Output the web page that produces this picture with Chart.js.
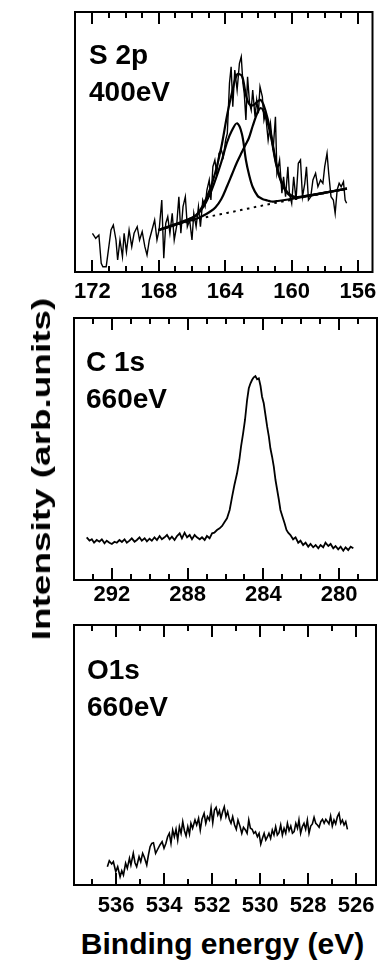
<!DOCTYPE html>
<html><head><meta charset="utf-8">
<script src="https://cdn.jsdelivr.net/npm/chart.js@4.4.1/dist/chart.umd.min.js"></script>
<style>
html,body{margin:0;padding:0;background:#fff;}
body{position:relative;width:383px;height:973px;overflow:hidden;font-family:"Liberation Sans",Arial,sans-serif;color:#000;}
canvas{position:absolute;left:0;}
.t{position:absolute;line-height:1;white-space:nowrap;font-weight:bold;}
.lab{font-size:28px;}
</style></head><body>
<canvas id="c1" width="383" height="305" style="top:0px"></canvas>
<canvas id="c2" width="383" height="310" style="top:305px"></canvas>
<canvas id="c3" width="383" height="310" style="top:615px"></canvas>
<div class="t lab" style="left:89px;top:41px">S 2p</div>
<div class="t lab" style="left:89px;top:78px">400eV</div>
<div class="t lab" style="left:86px;top:348px">C 1s</div>
<div class="t lab" style="left:86px;top:385px">660eV</div>
<div class="t lab" style="left:87px;top:656px">O1s</div>
<div class="t lab" style="left:87px;top:693px">660eV</div>
<div class="t" style="left:41px;top:469px;font-size:26px;transform:translate(-50%,-50%) rotate(-90deg) scaleX(1.42);">Intensity (arb.units)</div>
<div class="t" style="left:222.5px;top:929px;font-size:30px;transform:translateX(-50%);">Binding energy (eV)</div>
<script>
// ---------- S 2p (400 eV) ----------
const s2pTickLabels = [172,168,164,160,156];
const s2pEnergy = [172.00,171.80,171.61,171.47,171.37,171.17,171.01,170.88,170.74,170.58,
170.48,170.34,170.19,170.09,169.95,169.79,169.63,169.49,169.30,169.16,
169.00,168.84,168.71,168.57,168.41,168.25,168.11,167.98,167.82,167.70,
167.58,167.46,167.33,167.19,167.07,166.93,166.79,166.67,166.54,166.40,
166.28,166.14,166.00,165.89,165.75,165.61,165.49,165.35,165.21,165.10,
164.96,164.86,164.74,164.62,164.51,164.37,164.23,164.11,163.97,163.87,
163.74,163.64,163.54,163.42,163.28,163.14,163.03,162.93,162.85,162.75,
162.65,162.53,162.43,162.34,162.20,162.10,162.00,161.90,161.76,161.66,
161.57,161.41,161.27,161.11,160.97,160.88,160.72,160.58,160.48,160.36,
160.22,160.13,159.99,159.87,159.73,159.59,159.46,159.34,159.20,159.10,
158.98,158.84,158.71,158.55,158.41,158.25,158.11,158.00,157.86,157.76,
157.62,157.48,157.37,157.25,157.13,157.01,156.87,156.77,156.68];
const s2pRaw = [38.7,33.7,37,8.7,5.3,5.3,25.3,42,47,32,
12,32,15.3,38.7,20.3,42,25.3,38.7,45.3,32,
40.3,25.3,17,32,42,52,32,42,72,13.7,
48.7,55.3,38.7,58.7,32,45.3,75.3,38.7,65.3,75.3,
45.3,52,32,58.7,45.3,65.3,45.3,72,65.3,82,
92,72,105.3,112,98.7,118.7,122,115.3,132,138.7,
188.7,205.3,165.3,202,182,208.7,215.3,188.7,178.7,152,
195.3,168.7,162,182,155.3,172,158.7,185.3,175.3,152,
158.7,132,148.7,122,155.3,98.7,112,78.7,95.3,75.3,
105.3,78.7,68.7,95.3,72,108.7,112,75.3,88.7,105.3,
72,75.3,92,98.7,85.3,92,88.7,105.3,118.7,98.7,
75.3,72,58.7,82,88.7,85.3,90.3,72,68.7];
const s2pFitEnergy = [168.02,166.54,165.77,165.36,164.94,164.59,164.23,163.88,163.58,163.28,162.99,162.75,162.57,162.34,162.04,161.86,161.69,161.45,161.21,160.92,160.62,160.21,159.73,159.14,157.96,156.66];
const s2pBackground = [42,48.8,52.3,54,55.5,56.7,57.9,59.1,60.1,61.2,62.2,63,63.6,64.4,65.5,66.1,66.7,67.5,68.3,69.3,70.3,71.6,73.2,75.2,79.1,83.3];
const s2pPeakHigh = [42,50,56,64,77,92,110,130,142,148.7,138,112,98,85,76,74,72.5,71.5,70.5,70.8,71.5,72.5,73.8,75.6,79.3,83.3];
const s2pPeakLow = [42,49.5,53,56,60,64.5,73,86,98,110,120,128,134,146,160,164,161,150,133,107,90,78,74.5,75.8,79.3,83.3];
const s2pEnvelope = [42,50.7,56.7,66,81.5,99.8,125,157,180,197.5,196,177,168.4,166.6,170.5,172,167.3,154,135,108.5,91,79,75,76.2,79.5,83.3];

// ---------- C 1s (660 eV) ----------
const c1sTickLabels = [292,288,284,280];
const c1sEnergy = [293.38,293.23,293.11,292.99,292.85,292.71,292.58,292.44,292.32,292.18,292.05,291.91,291.79,291.65,291.52,291.38,291.26,291.12,291.00,290.85,290.73,290.59,290.47,290.32,290.20,290.06,289.94,289.80,289.67,289.53,289.41,289.27,289.14,289.00,288.88,288.74,288.61,288.47,288.35,288.21,288.08,287.94,287.82,287.68,287.56,287.41,287.29,287.15,287.03,286.89,286.76,
286.64,286.50,286.36,286.23,286.09,285.97,285.83,285.70,285.58,285.44,285.32,285.23,285.12,285.02,284.91,284.82,284.73,284.65,284.56,284.47,284.38,284.29,284.20,284.12,284.03,283.94,283.85,283.76,283.68,283.59,283.50,283.41,283.32,283.23,283.15,283.04,282.93,282.83,282.74,
282.62,282.48,282.35,282.21,282.09,281.95,281.82,281.68,281.56,281.42,281.29,281.15,281.03,280.89,280.77,280.62,280.50,280.36,280.24,280.10,279.97,279.83,279.71,279.57,279.44,279.30];
const c1sIntensity = [42.7,39.3,40.7,37.3,40,38.3,40.7,36.7,39.3,37.3,36,38.3,37.3,40,38,40.7,37.3,39.3,41.7,38.3,40,42.7,39.3,41.7,38.7,41.3,39.3,42.7,40,44,40.7,42.7,45,40.7,43.3,40,44,46.7,41.7,47.3,42.7,45,40.7,45,42.7,40.7,42.7,40,44,41.7,46.7,
47.3,50,51.7,54,58.3,61.7,70,83.3,95,106.7,120,133.3,146.7,160,180,191.7,196.7,200,202.7,204,200.7,201.7,194,183.3,176.7,165,153.3,143.3,131.7,123.3,113.3,100,90,80,70,63.3,56.7,50,47.3,
45,40.7,42.7,37.3,39.3,35,37.3,33.3,36,32.7,35,31.7,35,32.7,37.3,34,36,31.7,34,30.7,33.3,29.3,32.7,30,33.3,31.7];

// ---------- O 1s (660 eV) ----------
const o1sTickLabels = [536,534,532,530,528,526];
const o1sEnergy = [536.36,536.28,536.18,536.11,536.01,535.93,535.83,535.76,535.69,535.60,
535.53,535.44,535.38,535.28,535.21,535.14,535.04,534.97,534.89,534.82,
534.72,534.65,534.58,534.51,534.44,534.35,534.28,534.17,534.08,534.00,
533.92,533.85,533.78,533.71,533.64,533.57,533.50,533.43,533.36,533.29,
533.22,533.15,533.08,533.01,532.94,532.88,532.81,532.71,532.64,532.56,
532.49,532.42,532.33,532.26,532.19,532.11,532.04,531.97,531.90,531.83,
531.76,531.69,531.63,531.56,531.49,531.42,531.35,531.28,531.21,531.14,
531.06,530.99,530.92,530.83,530.76,530.69,530.61,530.54,530.47,530.40,
530.33,530.26,530.19,530.11,530.04,529.97,529.90,529.83,529.76,529.69,
529.63,529.56,529.49,529.42,529.35,529.28,529.21,529.14,529.07,529.00,
528.93,528.86,528.79,528.72,528.65,528.58,528.51,528.44,528.38,528.31,
528.24,528.17,528.10,528.03,527.96,527.89,527.82,527.75,527.68,527.61,
527.54,527.47,527.40,527.33,527.26,527.19,527.13,527.06,526.99,526.92,
526.85,526.78,526.71,526.64,526.57,526.50,526.43,526.36];
const o1sIntensity = [18.3,24.3,21,23.3,13.3,18.3,8.3,14.3,10,21.7,
16.7,26.7,20,31.7,22.3,18.3,28.3,23.3,31.7,27.7,
20,30,38.3,41.7,42.3,31.7,35,40,43.3,36.7,
41.7,48.3,51.7,41.7,55,48.3,55.7,45,58.3,51.7,
63.3,54.3,49,58.3,51,61.7,56.7,65,60,66.7,
55,65.7,71.7,61.7,68.3,65,76.7,62.3,75,77.7,
70,74.3,66.7,73.3,78.3,68.3,73.3,65.7,61.7,68.3,
60,55.7,65,58.3,51.7,57.7,55,51.7,65,56.7,
55.7,51.7,53.3,48.3,51.7,41,46.7,51.7,45,48.3,
51.7,46.7,55,50,58.3,50,52.3,60,50,56.7,
51.7,61.7,54.3,59,51.7,53.3,61.7,56.7,65,51.7,
58.3,61.7,55.7,65,51.7,59,61,67.7,61.7,60,
57.7,63.3,65.7,61.7,65.7,63.3,61,69,59,65,
61,68.3,71.7,61.7,65,60,63.3,55.7];

const FONT = '"Liberation Sans", Arial, sans-serif';
const pts = (xs, ys) => xs.map((x, i) => ({x: x, y: ys[i]}));

// frame with inward tick marks (top and bottom), positions from the x scale
const frameTicks = {
  id: 'frameTicks',
  afterDraw(chart, args, opts) {
    const ctx = chart.ctx, a = chart.chartArea, xs = chart.scales.x;
    ctx.save();
    ctx.strokeStyle = '#000';
    ctx.lineWidth = 2;
    ctx.strokeRect(a.left, a.top, a.right - a.left, a.bottom - a.top);
    xs.ticks.forEach(t => {
      const px = Math.round(xs.getPixelForValue(t.value));
      if (px < a.left + 4 || px > a.right - 4) return;
      const len = opts.majors.includes(Math.round(t.value)) ? 12 : 6;
      ctx.beginPath();
      ctx.moveTo(px, a.bottom); ctx.lineTo(px, a.bottom - len);
      ctx.moveTo(px, a.top); ctx.lineTo(px, a.top + len);
      ctx.stroke();
    });
    ctx.restore();
  }
};

function panel(id, datasets, p) {
  return new Chart(document.getElementById(id), {
    type: 'line',
    data: {datasets: datasets},
    plugins: [frameTicks],
    options: {
      responsive: false, animation: false, devicePixelRatio: 1,
      layout: {padding: {left: p.left, right: p.right, top: p.top, bottom: 0}},
      plugins: {legend: {display: false}, tooltip: {enabled: false}, frameTicks: {majors: p.majors}},
      elements: {point: {radius: 0}},
      scales: {
        x: {
          type: 'linear', reverse: true, min: p.xMin, max: p.xMax,
          grid: {display: false, drawTicks: false},
          border: {display: false},
          afterFit: s => { s.height = p.axisH; },
          ticks: {
            stepSize: 1, autoSkip: false, maxRotation: 0, minRotation: 0, includeBounds: false,
            padding: p.labelPad, color: '#000',
            font: {family: FONT, size: 22, weight: 'bold'},
            callback: v => p.majors.includes(Math.round(v)) ? String(Math.round(v)) : ''
          }
        },
        y: {display: false, min: 0, max: p.yMax}
      }
    }
  });
}

const line = (data, w, extra) => Object.assign({data: data, borderColor: '#000', borderWidth: w, pointRadius: 0, fill: false, tension: 0}, extra || {});

panel('c1', [
  line(pts(s2pFitEnergy, s2pBackground), 2, {borderDash: [2.5, 4.5]}),
  line(pts(s2pFitEnergy, s2pPeakHigh), 2.2, {tension: 0.35}),
  line(pts(s2pFitEnergy, s2pPeakLow), 2.2, {tension: 0.35}),
  line(pts(s2pFitEnergy, s2pEnvelope), 2.2, {tension: 0.35}),
  line(pts(s2pEnergy, s2pRaw), 1.4)
], {left: 75, right: 5, top: 12, axisH: 33, labelPad: 6.5, xMin: 155.12, xMax: 173.05, yMax: 260, majors: s2pTickLabels});

panel('c2', [
  line(pts(c1sEnergy, c1sIntensity), 1.8)
], {left: 74, right: 6, top: 13, axisH: 35, labelPad: 1.5, xMin: 278.05, xMax: 294.05, yMax: 262, majors: c1sTickLabels});

panel('c3', [
  line(pts(o1sEnergy, o1sIntensity), 1.6)
], {left: 74, right: 7, top: 10, axisH: 40, labelPad: 7.5, xMin: 525.17, xMax: 537.75, yMax: 260, majors: o1sTickLabels});
</script>
</body></html>
